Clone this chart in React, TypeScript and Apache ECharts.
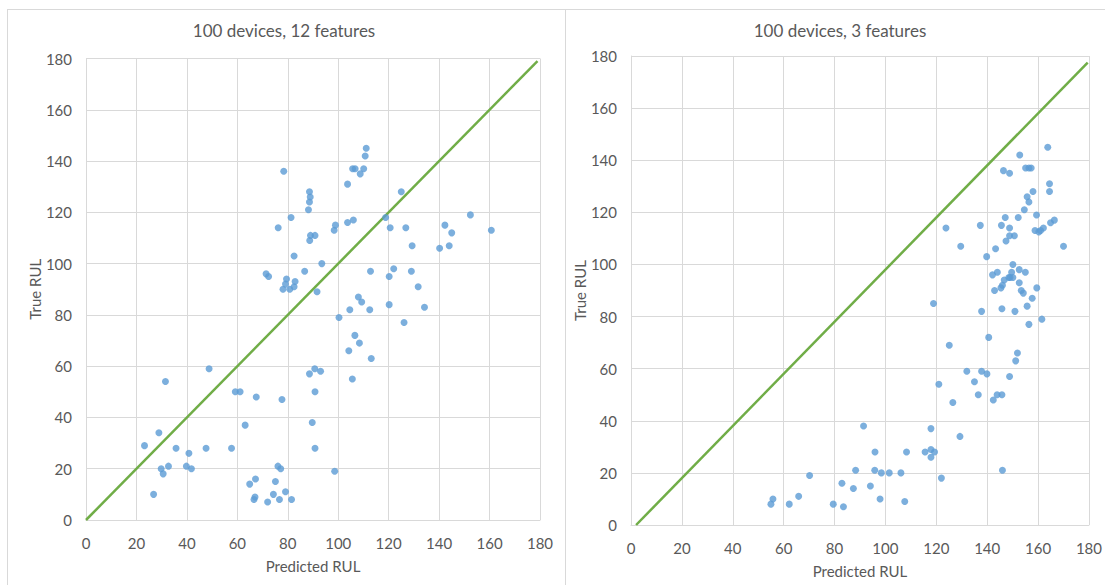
import React, { useEffect, useRef } from "react";
import * as echarts from "echarts";

const axisTicks = [0, 20, 40, 60, 80, 100, 120, 140, 160, 180];

const leftPredicted = [
  111.1, 110.7, 105.7, 106.7, 110.1, 108.7, 78.4, 103.7, 88.6, 88.9, 88.6, 88.2, 125.0, 81.3, 118.8, 152.4, 76.2,
  98.9, 98.4, 103.7, 106.0, 120.6, 126.8, 142.3, 145.0, 160.7, 89.0, 90.8, 88.7, 129.3, 140.2, 144.0, 82.5, 93.5,
  71.4, 72.4, 86.7, 112.8, 122.0, 129.0, 79.5, 79.1, 82.9, 78.1, 80.8, 82.5, 91.6, 120.2, 131.7, 108.0, 109.3,
  104.6, 112.5, 120.2, 134.2, 100.3, 126.1, 106.6, 108.4, 104.2, 113.1, 48.8, 88.6, 90.7, 93.0, 105.6, 31.5, 59.2,
  61.1, 90.8, 67.5, 77.7, 63.1, 89.7, 28.9, 23.2, 35.7, 47.6, 57.7, 90.8, 40.8, 29.8, 30.6, 32.7, 39.8, 41.8, 76.1,
  77.2, 98.6, 26.8, 64.9, 67.2, 75.1, 66.6, 67.0, 72.0, 74.3, 76.7, 79.1, 81.5,
];
const leftTrue = [
  145, 142, 137, 137, 137, 135, 136, 131, 128, 126, 124, 121, 128, 118, 118, 119, 114, 115, 113, 116, 117, 114, 114,
  115, 112, 113, 111, 111, 109, 107, 106, 107, 103, 100, 96, 95, 97, 97, 98, 97, 94, 92, 93, 90, 90, 91, 89, 95, 91,
  87, 85, 82, 82, 84, 83, 79, 77, 72, 69, 66, 63, 59, 57, 59, 58, 55, 54, 50, 50, 50, 48, 47, 37, 38, 34, 29, 28, 28,
  28, 28, 26, 20, 18, 21, 21, 20, 21, 20, 19, 10, 14, 16, 15, 8, 9, 7, 10, 8, 11, 8,
];

const rightPredicted = [
  163.8, 152.8, 146.4, 148.8, 155.1, 156.4, 157.3, 164.5, 164.5, 158.0, 155.7, 156.4, 154.6, 147.1, 152.2, 159.4,
  137.3, 145.6, 148.8, 123.8, 158.8, 160.3, 161.0, 162.1, 164.9, 166.4, 148.8, 150.7, 147.4, 129.6, 143.3, 170.0,
  139.8, 150.1, 142.1, 144.0, 149.6, 152.6, 155.0, 146.7, 148.5, 149.0, 150.1, 146.0, 145.4, 152.6, 142.9, 153.4,
  154.2, 159.5, 157.7, 118.9, 137.8, 145.8, 150.9, 155.7, 161.5, 156.4, 140.6, 125.1, 151.9, 151.2, 132.0, 137.8,
  139.9, 148.8, 135.0, 121.0, 136.5, 143.9, 145.8, 142.4, 126.5, 91.4, 117.9, 129.3, 95.9, 108.3, 115.6, 117.9,
  119.3, 117.9, 88.3, 95.8, 98.4, 101.5, 106.1, 146.0, 70.2, 122.0, 82.9, 87.4, 94.1, 65.9, 55.8, 55.0, 62.2, 79.5,
  83.5, 97.9, 107.6,
];
const rightTrue = [
  145, 142, 136, 135, 137, 137, 137, 131, 128, 128, 126, 124, 121, 118, 118, 119, 115, 115, 114, 114, 113, 112.5, 113,
  114, 116, 117, 111, 111, 109, 107, 106, 107, 103, 100, 96, 97, 97, 98, 97, 94, 95, 95, 95, 92, 91, 93, 90, 90, 89,
  91, 87, 85, 82, 83, 82, 84, 79, 77, 72, 69, 66, 63, 59, 59, 58, 57, 55, 54, 50, 50, 50, 48, 47, 38, 37, 34, 28, 28,
  28, 29, 28, 26, 21, 21, 20, 20, 20, 21, 19, 18, 16, 14, 15, 11, 10, 8, 8, 8, 7, 10, 9,
];

const leftIdeal = [
  [0, 0],
  [179, 179],
];
const rightIdeal = [
  [2, 0],
  [179.5, 177.5],
];

const titles = ["100 devices, 12 features", "100 devices, 3 features"];
const xName = "Predicted RUL";
const yName = "True RUL";

const FONT = "Lato, 'Open Sans', sans-serif";
const GRAY = "#595959";
const GRID = "#d9d9d9";
const BLUE = "#5b9bd5";
const GREEN = "#70ad47";

function zip(a: number[], b: number[]) {
  return a.map((v, i) => [v, b[i]]);
}

export default function App() {
  const ref = useRef<HTMLDivElement>(null);
  useEffect(() => {
    if (!ref.current) return;
    const chart = echarts.init(ref.current, null, { renderer: "svg" });
    const valueAxis = (idx: number, isX: boolean) => ({
      type: "value",
      gridIndex: idx,
      min: axisTicks[0],
      max: axisTicks[axisTicks.length - 1],
      interval: axisTicks[1] - axisTicks[0],
      name: isX ? xName : yName,
      nameLocation: "middle",
      nameGap: isX ? 38 : 42,
      nameTextStyle: { color: GRAY, fontSize: 15, fontFamily: FONT },
      axisLine: { show: true, lineStyle: { color: GRID, width: 1 } },
      axisTick: { show: false },
      axisLabel: { color: GRAY, fontSize: 15, fontFamily: FONT, margin: isX ? 15 : 14 },
      splitLine: { show: true, lineStyle: { color: GRID, width: 1 } },
    });
    chart.setOption({
      animation: false,
      backgroundColor: "#ffffff",
      grid: [
        { left: 86, top: 58.5, width: 454, height: 461.5 },
        { left: 631, top: 56, width: 461.5, height: 469 },
      ],
      xAxis: [valueAxis(0, true), valueAxis(1, true)],
      yAxis: [valueAxis(0, false), valueAxis(1, false)],
      graphic: [
        { type: "line", shape: { x1: 7, y1: 9.5, x2: 1105, y2: 9.5 }, style: { stroke: GRID, lineWidth: 1 }, silent: true },
        { type: "line", shape: { x1: 7.5, y1: 9, x2: 7.5, y2: 585 }, style: { stroke: GRID, lineWidth: 1 }, silent: true },
        { type: "line", shape: { x1: 565.5, y1: 9, x2: 565.5, y2: 585 }, style: { stroke: GRID, lineWidth: 1 }, silent: true },
        {
          type: "text",
          x: 284,
          y: 30,
          style: { text: titles[0], fill: GRAY, fontSize: 17, fontFamily: FONT, textAlign: "center", textVerticalAlign: "middle" },
        },
        {
          type: "text",
          x: 840,
          y: 30,
          style: { text: titles[1], fill: GRAY, fontSize: 17, fontFamily: FONT, textAlign: "center", textVerticalAlign: "middle" },
        },
      ],
      series: [
        {
          type: "line",
          xAxisIndex: 0,
          yAxisIndex: 0,
          data: leftIdeal,
          showSymbol: false,
          symbol: "none",
          lineStyle: { color: GREEN, width: 2.5 },
          z: 2,
        },
        {
          type: "scatter",
          xAxisIndex: 0,
          yAxisIndex: 0,
          data: zip(leftPredicted, leftTrue),
          symbolSize: 7,
          itemStyle: { color: BLUE },
          z: 3,
        },
        {
          type: "line",
          xAxisIndex: 1,
          yAxisIndex: 1,
          data: rightIdeal,
          showSymbol: false,
          symbol: "none",
          lineStyle: { color: GREEN, width: 2.5 },
          z: 2,
        },
        {
          type: "scatter",
          xAxisIndex: 1,
          yAxisIndex: 1,
          data: zip(rightPredicted, rightTrue),
          symbolSize: 7,
          itemStyle: { color: BLUE },
          z: 3,
        },
      ],
    });
    return () => chart.dispose();
  }, []);
  return (
    <div
      ref={ref}
      style={{ position: "fixed", left: 0, top: 0, width: 1105, height: 585, background: "#fff" }}
    />
  );
}
